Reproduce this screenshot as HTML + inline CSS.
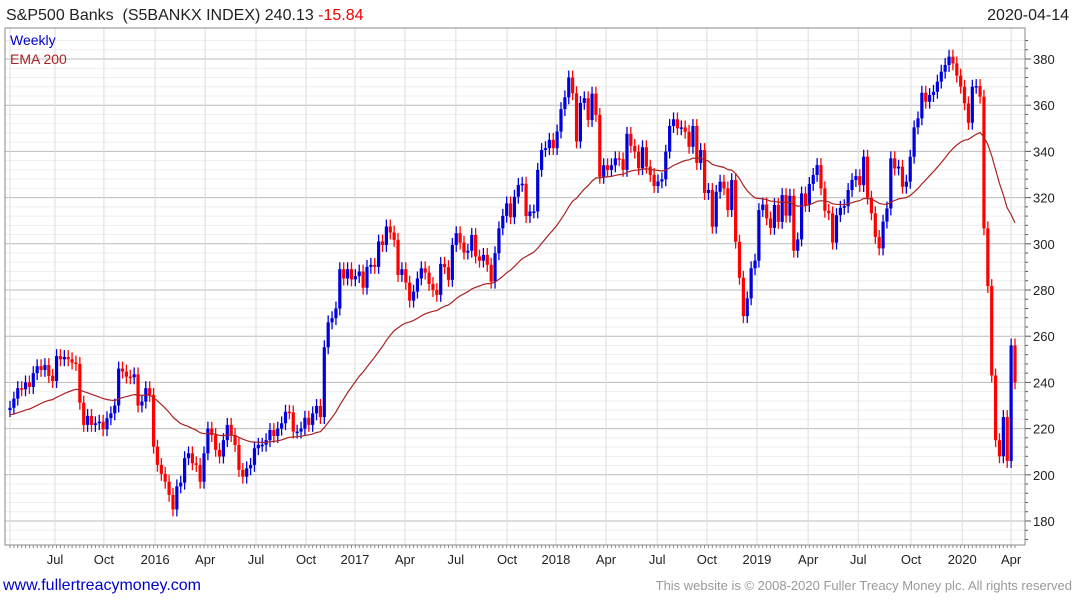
<!DOCTYPE html>
<html><head><meta charset="utf-8"><style>
body{margin:0;background:#fff;width:1075px;height:600px;overflow:hidden;font-family:"Liberation Sans",sans-serif}
svg{display:block}
</style></head><body>
<svg id="chart" width="1075" height="600">
<rect x="0" y="0" width="1075" height="600" fill="#fff"/>
<text x="6" y="20" font-size="16" fill="#222" xml:space="preserve">S&amp;P500 Banks  (S5BANKX INDEX) 240.13 <tspan fill="#e00">-15.84</tspan></text>
<text x="1069" y="20" font-size="16" fill="#222" text-anchor="end">2020-04-14</text>
<g id="grid"></g>
<g id="marks"></g>
<rect x="5" y="28" width="1020" height="517" fill="none" stroke="#888"/>
<text x="10" y="45" font-size="14" fill="#00c">Weekly</text>
<text x="10" y="64" font-size="14" fill="#a22">EMA 200</text>
<text x="3" y="590" font-size="16" fill="#00c">www.fullertreacymoney.com</text>
<text x="1072" y="590" font-size="13" fill="#999" text-anchor="end">This website is © 2008-2020 Fuller Treacy Money plc. All rights reserved</text>
</svg>
<script>
const closes=[229,233,237.5,237,240,238,244,247,245.4,247.5,242.8,240.6,251.4,250,251,250,248.6,248,231.2,221.6,225.5,221.6,222.3,223,219.7,224.5,226.6,230,246,244.7,242.5,242.2,243.5,230,231.7,237.5,234.6,
212.2,204.3,200.4,197,191.3,185,195,196.6,207.2,209.3,205,204.3,197,209.3,220,217.2,210.8,207.9,215,221.6,217.2,212.9,202.1,199.2,202.8,204.3,211.5,213,213,215,219.4,216.8,220,222.3,227.3,227,218.7,218.7,220,224.7,221.6,226.6,229.8,225,
255.2,266,267.8,272,289,285,289,284.6,286,288,281,290,290.9,290,301,299.5,307.5,304.9,301.7,286.5,289,283.2,275.4,279.3,285,289.4,287.5,282.6,280,277.9,291.3,289.9,284.4,299.5,304.6,300.5,296.2,297,303.8,294.5,292.7,295.2,290.9,283.6,295.9,306.7,312.1,317.5,311.5,320.4,325.5,326,312,314,314,332,340.6,341.4,345,341.4,348.6,358.3,363.4,372,365.2,344.3,361,363,353.6,365,355.8,329,334,332,334,337,336.6,332,347.6,342.4,339.9,332.7,341.8,333.4,329.8,325,327,
327.9,339.9,351,353.9,350,350.4,348.5,342,351,335,340.6,322,323.3,307.4,322.5,326.9,324,314.6,327.6,300.9,285.3,268.7,276.4,289.4,292.7,314.6,317,311,306.9,316.8,309.5,321.1,312.2,320.8,297,301.9,321.8,316.8,325.9,329.8,334.1,324,314.3,313.2,300.5,312.4,315.6,316.3,323.3,327.6,329.3,325.4,337.7,320,313.2,303,298,309.6,315.3,337,332.6,333.4,324.7,326.9,337.7,350.4,354.3,365.4,361.5,364.4,365.8,370.2,374.5,377.4,381,378.1,372.8,368,360.8,352.4,368,368.3,363.7,306.7,281.7,
243,215,208,225,206,256,240];
const yTicks=[180,200,220,240,260,280,300,320,340,360,380];
const xLabels=["","Jul","Oct","2016","Apr","Jul","Oct","2017","Apr","Jul","Oct","2018","Apr","Jul","Oct","2019","Apr","Jul","Oct","2020","Apr"];
const xLabelWeeks=[0,11.6,24.2,37.4,50.3,63.4,76.3,88.9,101.8,114.9,128.1,140.7,153.6,166.8,179.6,192.5,205.7,218.6,232.2,245.4,258];
const emaSeed=226;
const NS="http://www.w3.org/2000/svg";
const n=closes.length;
const STEP=(1015-10)/259;
function xs(i){return 10+i*STEP;}
function ys(v){return 521-(v-180)*2.31;}
const grid=document.getElementById('grid'),marks=document.getElementById('marks');
function mk(tag,attrs,parent){const e=document.createElementNS(NS,tag);for(const k in attrs)e.setAttribute(k,attrs[k]);parent.appendChild(e);return e;}
for(let v=172;v<=388;v+=4){const y=ys(v);if(y<28||y>545)continue;
 const major=v%20===0;
 const l=mk('line',{x1:5,x2:1025,y1:y,y2:y,stroke:major?'#bbb':'#eee','stroke-width':1},grid);
 
 
 const t=mk('line',{x1:1025,x2:major?1031:1028,y1:y,y2:y,stroke:'#555'},grid);
 
 }
yTicks.forEach(v=>{const t=mk('text',{x:1033,y:ys(v)+5,'font-size':13,fill:'#222'},grid);t.textContent=v;
 
 });
xLabels.forEach((s,k)=>{const x=xs(xLabelWeeks[k]);
 const l=mk('line',{x1:x,x2:x,y1:28,y2:545,stroke:'#ddd'},grid);
 
 
 const t=mk('text',{x:x,y:564,'font-size':13,fill:'#222','text-anchor':'middle'},grid);t.textContent=s;
 
 });
for(let i=0;i<n;i+=1){const x=xs(i);const tk=mk('line',{x1:x,x2:x,y1:545,y2:548,stroke:'#888'},grid);
 
 }
for(let i=0;i<n;i++){
 const c=closes[i],o=i?closes[i-1]:c-1;const red=c<o;const col=red?'#f00':'#00d';
 const hi=Math.max(o,c)+3,lo=Math.min(o,c)-3;const x=xs(i);
 const w=mk('line',{x1:x,x2:x,y1:ys(hi),y2:ys(lo),stroke:col,'stroke-width':1.3},marks);
 
 
 const top=ys(Math.max(o,c)),bot=ys(Math.min(o,c));
 const b=mk('rect',{x:x-1.6,y:top,width:3.2,height:Math.max(1.5,bot-top),fill:col},marks);
 
 }
let e=emaSeed,pts=[];const a=2/41;
for(let i=0;i<n;i++){e=i?e+a*(closes[i]-e):e;pts.push(xs(i).toFixed(1)+','+ys(e).toFixed(1));}
const pl=mk('polyline',{points:pts.join(' '),fill:'none',stroke:'#a22','stroke-width':1.2},marks);


</script>
</body></html>
